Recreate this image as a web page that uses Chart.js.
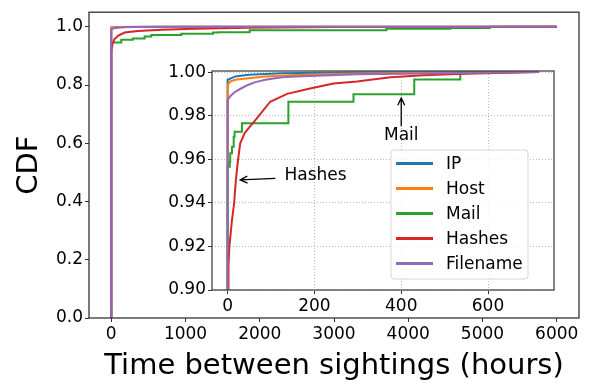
<!DOCTYPE html>
<html>
<head>
<meta charset="utf-8">
<script src="https://cdn.jsdelivr.net/npm/chart.js@4"></script>
<style>
  body { margin: 0; background: #fff; }
  #wrap { position: relative; width: 592px; height: 385px; }
  #wrap canvas { position: absolute; left: 0; top: 0; }
</style>
</head>
<body>
<div id="wrap">
  <canvas id="mainChart" width="592" height="385"></canvas>
  <canvas id="insetChart" width="592" height="385"></canvas>
</div>
<script>
var labels = ["IP", "Host", "Mail", "Hashes", "Filename"];
var colors = ["#1f77b4", "#ff7f0e", "#2ca02c", "#d62728", "#9467bd"];

// main plot: hours vs CDF
var mainXTicks = [0, 1000, 2000, 3000, 4000, 5000, 6000];
var mainYTicks = [0, 0.2, 0.4, 0.6, 0.8, 1.0];

var ipX = [0, 0, 100, 500, 6000];
var ipY = [0, 0.998, 0.999, 1.0, 1.0];
var hostX = [0, 0, 50, 300, 1000, 6000];
var hostY = [0, 0.996, 0.998, 0.999, 1.0, 1.0];
var mailX = [0, 0, 135, 291, 449, 539, 943, 1370, 1437, 1864, 3706, 4569, 5098, 6000];
var mailY = [0, 0.946, 0.9555, 0.96, 0.9666, 0.972, 0.9756, 0.98, 0.981, 0.9876, 0.9933, 0.9955, 1.0, 1.0];
var hashX = [0, 0, 22, 44, 89, 180, 359, 674, 1122, 1841, 3000, 4500, 6000];
var hashY = [0, 0.918, 0.946, 0.9577, 0.969, 0.98, 0.9855, 0.99, 0.9933, 0.9967, 0.999, 0.9995, 1.0];
var fileX = [0, 0, 50, 200, 1000, 6000];
var fileY = [0, 0.991, 0.996, 0.999, 1.0, 1.0];

// inset: first 30 days
var insetXTicks = [0, 200, 400, 600];
var insetYTicks = [0.90, 0.92, 0.94, 0.96, 0.98, 1.00];

var inIpX = [0, 0, 18, 48, 125, 300, 716];
var inIpY = [0, 0.9965, 0.998, 0.9988, 0.9995, 0.9999, 1.0];
var inHostX = [0, 0, 6, 18, 48, 87, 156, 300, 500, 716];
var inHostY = [0, 0.994, 0.9957, 0.9965, 0.9972, 0.998, 0.9987, 0.9993, 0.9997, 1.0];
var inMailX = [0, 0, 5, 6, 10, 14, 16, 33, 140, 290, 430, 536, 716];
var inMailY = [0, 0.9566, 0.9589, 0.9627, 0.9657, 0.9703, 0.9726, 0.9765, 0.9864, 0.9898, 0.9966, 1.0, 1.0];
var inHashX = [0, 1, 2, 4, 10, 15, 19, 24, 29, 39, 48, 64, 98, 137, 190, 244, 298, 375, 452, 529, 644, 716];
var inHashY = [0, 0.9, 0.9107, 0.9199, 0.932, 0.9398, 0.9505, 0.9596, 0.9673, 0.9719, 0.9742, 0.978, 0.9864, 0.990, 0.9925, 0.9948, 0.9957, 0.9976, 0.9986, 0.9991, 0.9997, 1.0];
var inFileX = [0, 0, 6, 14, 21, 33, 48, 64, 87, 125, 156, 300, 500, 716];
var inFileY = [0, 0.9873, 0.9889, 0.9904, 0.9914, 0.9927, 0.9942, 0.9954, 0.9965, 0.9976, 0.998, 0.999, 0.9995, 1.0];

// annotations in inset data coords
var hashNote = { text: "Hashes", x: 131, y: 0.9523, fromX: 110, fromY: 0.9512, toX: 29, toY: 0.9505 };
var mailNote = { text: "Mail", x: 400, y: 0.9709, fromX: 400, fromY: 0.9752, toX: 400, toY: 0.9881 };

var mainSeries = [[ipX, ipY], [hostX, hostY], [mailX, mailY], [hashX, hashY], [fileX, fileY]];
var insetSeries = [[inIpX, inIpY], [inHostX, inHostY], [inMailX, inMailY], [inHashX, inHashY], [inFileX, inFileY]];

Chart.defaults.font.family = "'DejaVu Sans', sans-serif";
Chart.defaults.color = "#000";

function toPoints(xs, ys) {
  return xs.map(function (x, i) { return { x: x, y: ys[i] }; });
}

function makeDatasets(series) {
  return series.map(function (s, i) {
    return {
      label: labels[i],
      data: toPoints(s[0], s[1]),
      showLine: true,
      borderColor: colors[i],
      backgroundColor: colors[i],
      borderWidth: 2,
      pointRadius: 0,
      stepped: i == 2,
      order: 4 - i
    };
  });
}

function fixTicks(list) {
  return function (scale) {
    scale.ticks = list.map(function (v) { return { value: v }; });
  };
}

// frame round the plot area, like matplotlib spines
var framePlugin = {
  id: 'frame',
  beforeDraw: function (chart, args, opts) {
    if (!opts.fill) return;
    var a = chart.chartArea, ctx = chart.ctx;
    ctx.save();
    ctx.fillStyle = '#fff';
    ctx.fillRect(a.left, a.top, a.right - a.left, a.bottom - a.top);
    ctx.restore();
  },
  afterDatasetsDraw: function (chart, args, opts) {
    var a = chart.chartArea, ctx = chart.ctx;
    ctx.save();
    ctx.strokeStyle = opts.color || '#333';
    ctx.lineWidth = 1.3;
    ctx.strokeRect(a.left, a.top, a.right - a.left, a.bottom - a.top);
    ctx.restore();
  }
};

function arrow(ctx, x1, y1, x2, y2) {
  var ang = Math.atan2(y2 - y1, x2 - x1);
  var len = 8;
  ctx.beginPath();
  ctx.moveTo(x1, y1);
  ctx.lineTo(x2, y2);
  ctx.moveTo(x2 - len * Math.cos(ang - 0.45), y2 - len * Math.sin(ang - 0.45));
  ctx.lineTo(x2, y2);
  ctx.lineTo(x2 - len * Math.cos(ang + 0.45), y2 - len * Math.sin(ang + 0.45));
  ctx.stroke();
}

var notesPlugin = {
  id: 'notes',
  afterDatasetsDraw: function (chart) {
    var ctx = chart.ctx, sx = chart.scales.x, sy = chart.scales.y;
    ctx.save();
    ctx.strokeStyle = '#000';
    ctx.lineWidth = 1.3;
    ctx.fillStyle = '#000';
    ctx.font = "17px 'DejaVu Sans'";
    ctx.textBaseline = 'middle';
    // Hashes
    arrow(ctx, sx.getPixelForValue(hashNote.fromX), sy.getPixelForValue(hashNote.fromY),
      sx.getPixelForValue(hashNote.toX), sy.getPixelForValue(hashNote.toY));
    ctx.textAlign = 'left';
    ctx.fillText(hashNote.text, sx.getPixelForValue(hashNote.x), sy.getPixelForValue(hashNote.y));
    // Mail
    arrow(ctx, sx.getPixelForValue(mailNote.fromX), sy.getPixelForValue(mailNote.fromY),
      sx.getPixelForValue(mailNote.toX), sy.getPixelForValue(mailNote.toY));
    ctx.textAlign = 'center';
    ctx.fillText(mailNote.text, sx.getPixelForValue(mailNote.x), sy.getPixelForValue(mailNote.y));

    // legend box, lower right of the inset
    var a = chart.chartArea;
    var bw = 137, bh = 129;
    var bx = a.right - 26 - bw, by = a.bottom - 11 - bh;
    ctx.beginPath();
    ctx.roundRect(bx, by, bw, bh, 3);
    ctx.fillStyle = 'rgba(255,255,255,0.8)';
    ctx.fill();
    ctx.strokeStyle = '#d6d6d6';
    ctx.lineWidth = 1;
    ctx.stroke();
    ctx.textAlign = 'left';
    for (var i = 0; i < labels.length; i++) {
      var ly = by + 13.5 + 25 * i;
      ctx.strokeStyle = colors[i];
      ctx.lineWidth = 3;
      ctx.beginPath();
      ctx.moveTo(bx + 5, ly);
      ctx.lineTo(bx + 42, ly);
      ctx.stroke();
      ctx.fillStyle = '#000';
      ctx.fillText(labels[i], bx + 55, ly + 1);
    }
    ctx.restore();
  }
};

new Chart(document.getElementById("mainChart"), {
  type: 'scatter',
  data: { datasets: makeDatasets(mainSeries) },
  options: {
    responsive: false,
    animation: false,
    devicePixelRatio: 1,
    layout: { padding: { left: 0, top: 4, right: 13, bottom: 0 } },
    plugins: { legend: { display: false }, tooltip: { enabled: false }, frame: { color: '#333' } },
    scales: {
      x: {
        type: 'linear', min: -300, max: 6300,
        afterBuildTicks: fixTicks(mainXTicks),
        afterFit: function (s) { s.height = 67; },
        border: { display: false },
        grid: { drawOnChartArea: false, tickLength: 4, color: '#333' },
        ticks: { font: { size: 17 }, padding: 2, maxRotation: 0, callback: function (v) { return String(v); } },
        title: { display: true, text: 'Time between sightings (hours)', font: { size: 29 }, padding: { top: 0, bottom: 1 } }
      },
      y: {
        min: 0, max: 1.05,
        afterBuildTicks: fixTicks(mainYTicks),
        afterFit: function (s) { s.width = 89; },
        border: { display: false },
        grid: { drawOnChartArea: false, tickLength: 4, color: '#333' },
        ticks: { font: { size: 17 }, padding: 2, callback: function (v) { return v.toFixed(1); } },
        title: { display: true, text: 'CDF', font: { size: 29 }, padding: { top: 12, bottom: 0 } }
      }
    }
  },
  plugins: [framePlugin]
});

new Chart(document.getElementById("insetChart"), {
  type: 'scatter',
  data: { datasets: makeDatasets(insetSeries) },
  options: {
    responsive: false,
    animation: false,
    devicePixelRatio: 1,
    layout: { padding: { left: 150, top: 71, right: 38, bottom: 65 } },
    plugins: { legend: { display: false }, tooltip: { enabled: false }, frame: { color: '#444', fill: true } },
    scales: {
      x: {
        type: 'linear', min: -36, max: 752,
        afterBuildTicks: fixTicks(insetXTicks),
        afterFit: function (s) { s.height = 30; },
        border: { display: false, dash: [1, 2] },
        grid: { color: '#b8b8b8', lineWidth: 1, tickLength: 4, tickColor: '#333', tickBorderDash: [] },
        ticks: { font: { size: 17 }, padding: 2, maxRotation: 0, callback: function (v) { return String(v); } }
      },
      y: {
        min: 0.9, max: 1.0005,
        afterBuildTicks: fixTicks(insetYTicks),
        afterFit: function (s) { s.width = 62; },
        border: { display: false, dash: [1, 2] },
        grid: { color: '#b8b8b8', lineWidth: 1, tickLength: 4, tickColor: '#333', tickBorderDash: [] },
        ticks: { font: { size: 17 }, padding: 2, callback: function (v) { return v.toFixed(2); } }
      }
    }
  },
  plugins: [framePlugin, notesPlugin]
});
</script>
</body>
</html>
